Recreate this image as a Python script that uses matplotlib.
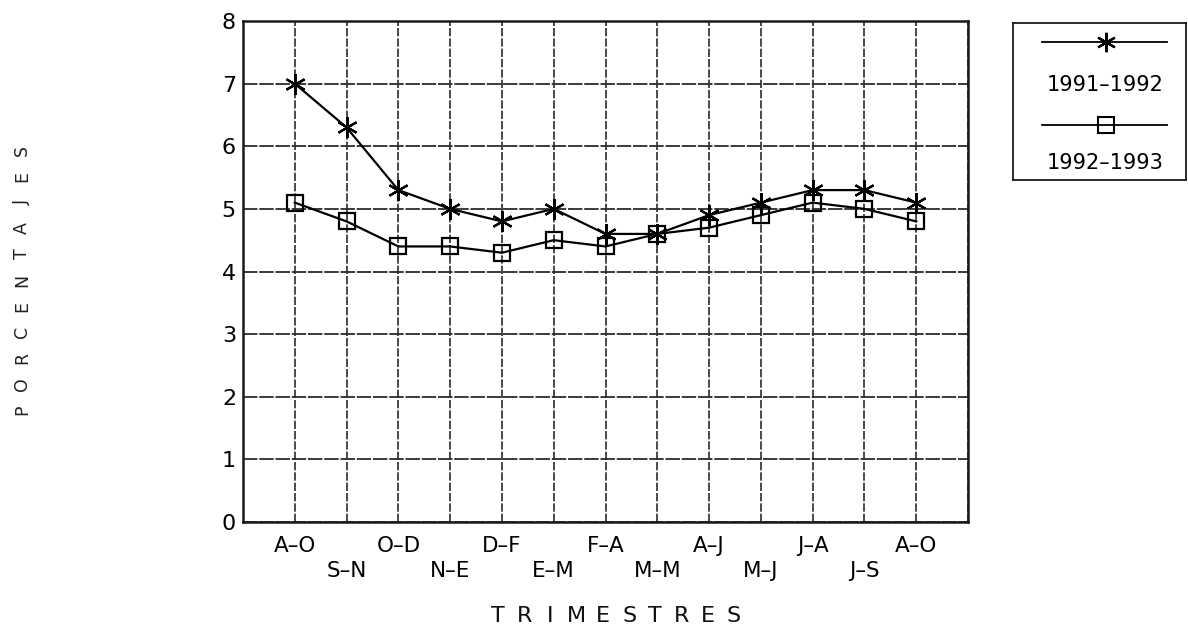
import matplotlib
matplotlib.use("Agg")
import matplotlib.pyplot as plt
from matplotlib.lines import Line2D

categories = ["A–O", "S–N", "O–D", "N–E", "D–F", "E–M", "F–A",
              "M–M", "A–J", "M–J", "J–A", "J–S", "A–O"]
serie_1991_1992 = [7.0, 6.3, 5.3, 5.0, 4.8, 5.0, 4.6, 4.6, 4.9, 5.1, 5.3, 5.3, 5.1]
serie_1992_1993 = [5.1, 4.8, 4.4, 4.4, 4.3, 4.5, 4.4, 4.6, 4.7, 4.9, 5.1, 5.0, 4.8]
labels = ["1991–1992", "1992–1993"]
y_ticks = [0, 1, 2, 3, 4, 5, 6, 7, 8]
x_title = "TRIMESTRES"
y_title = "PORCENTAJES"

plt.rcParams['font.family'] = ['DejaVu Sans']

W, H = 1188, 631
fig = plt.figure(figsize=(W / 100, H / 100), dpi=100)
ax = fig.add_axes([243/W, 1 - 522/H, (968-243)/W, (522-21)/H])

n = len(categories)
xs = list(range(1, n + 1))
ax.set_xlim(0, n + 1)
ax.set_ylim(y_ticks[0], y_ticks[-1])

grid_col = '#2b2b2b'
for gx in range(0, n + 2):
    ax.axvline(gx, color=grid_col, lw=1.2, ls=(0, (5, 1.2)), zorder=1)
for gy in y_ticks:
    ax.axhline(gy, color=grid_col, lw=1.3, ls=(0, (8, 1)), zorder=1)

ax.plot(xs, serie_1991_1992, color='black', lw=1.6, marker=(6, 2, 0),
        markersize=15, markeredgewidth=1.6, zorder=3)
ax.plot(xs, serie_1992_1993, color='black', lw=1.6, marker='s',
        markersize=11, markerfacecolor='none', markeredgewidth=1.6, zorder=3)

for s in ax.spines.values():
    s.set_color('#1a1a1a')
    s.set_linewidth(1.8)

ax.set_yticks(y_ticks)
ax.set_yticklabels([str(t) for t in y_ticks], fontsize=16)
ax.tick_params(axis='y', length=0, pad=5)

odd_pos = xs[0::2]
even_pos = xs[1::2]
ax.set_xticks(odd_pos)
ax.set_xticklabels(categories[0::2], fontsize=15.5)
ax.set_xticks(even_pos, minor=True)
ax.set_xticklabels(categories[1::2], minor=True, fontsize=15.5)
ax.tick_params(axis='x', which='major', length=0, pad=10)
ax.tick_params(axis='x', which='minor', length=0, pad=28)


def spaced(xc, yc, text, pitch, vertical=False, **kw):
    m = len(text)
    for i, ch in enumerate(text):
        off = (i - (m - 1) / 2) * pitch
        if vertical:
            fig.text(xc / W, 1 - (yc - off) / H, ch, rotation=90,
                     ha='center', va='center', **kw)
        else:
            fig.text((xc + off) / W, 1 - yc / H, ch,
                     ha='center', va='center', **kw)


spaced(616, 616, x_title, 26.2, fontsize=16, color='#111')
spaced(22, 280, y_title, 26.0, vertical=True, fontsize=12.5, color='#222')

# legend box
top, bot = 23, 180
lax = fig.add_axes([1013/W, 1 - bot/H, (1186-1013)/W, (bot-top)/H])
lax.set_xlim(0, 1)
lax.set_ylim(0, 1)
lax.set_xticks([])
lax.set_yticks([])
for s in lax.spines.values():
    s.set_color('#1a1a1a')
    s.set_linewidth(1.3)
lax.add_line(Line2D([0.167, 0.89], [0.879, 0.879], color='black', lw=1.3))
lax.plot([0.54], [0.879], marker=(6, 2, 0), markersize=14, markeredgewidth=1.6, color='black')
lax.text(0.53, 0.605, labels[0], ha='center', va='center', fontsize=15)
lax.add_line(Line2D([0.167, 0.89], [0.35, 0.35], color='black', lw=1.3))
lax.plot([0.54], [0.35], marker='s', markersize=11, markerfacecolor='none',
         markeredgewidth=1.5, color='black')
lax.text(0.53, 0.108, labels[1], ha='center', va='center', fontsize=15)

fig.savefig("out.png", dpi=100)
